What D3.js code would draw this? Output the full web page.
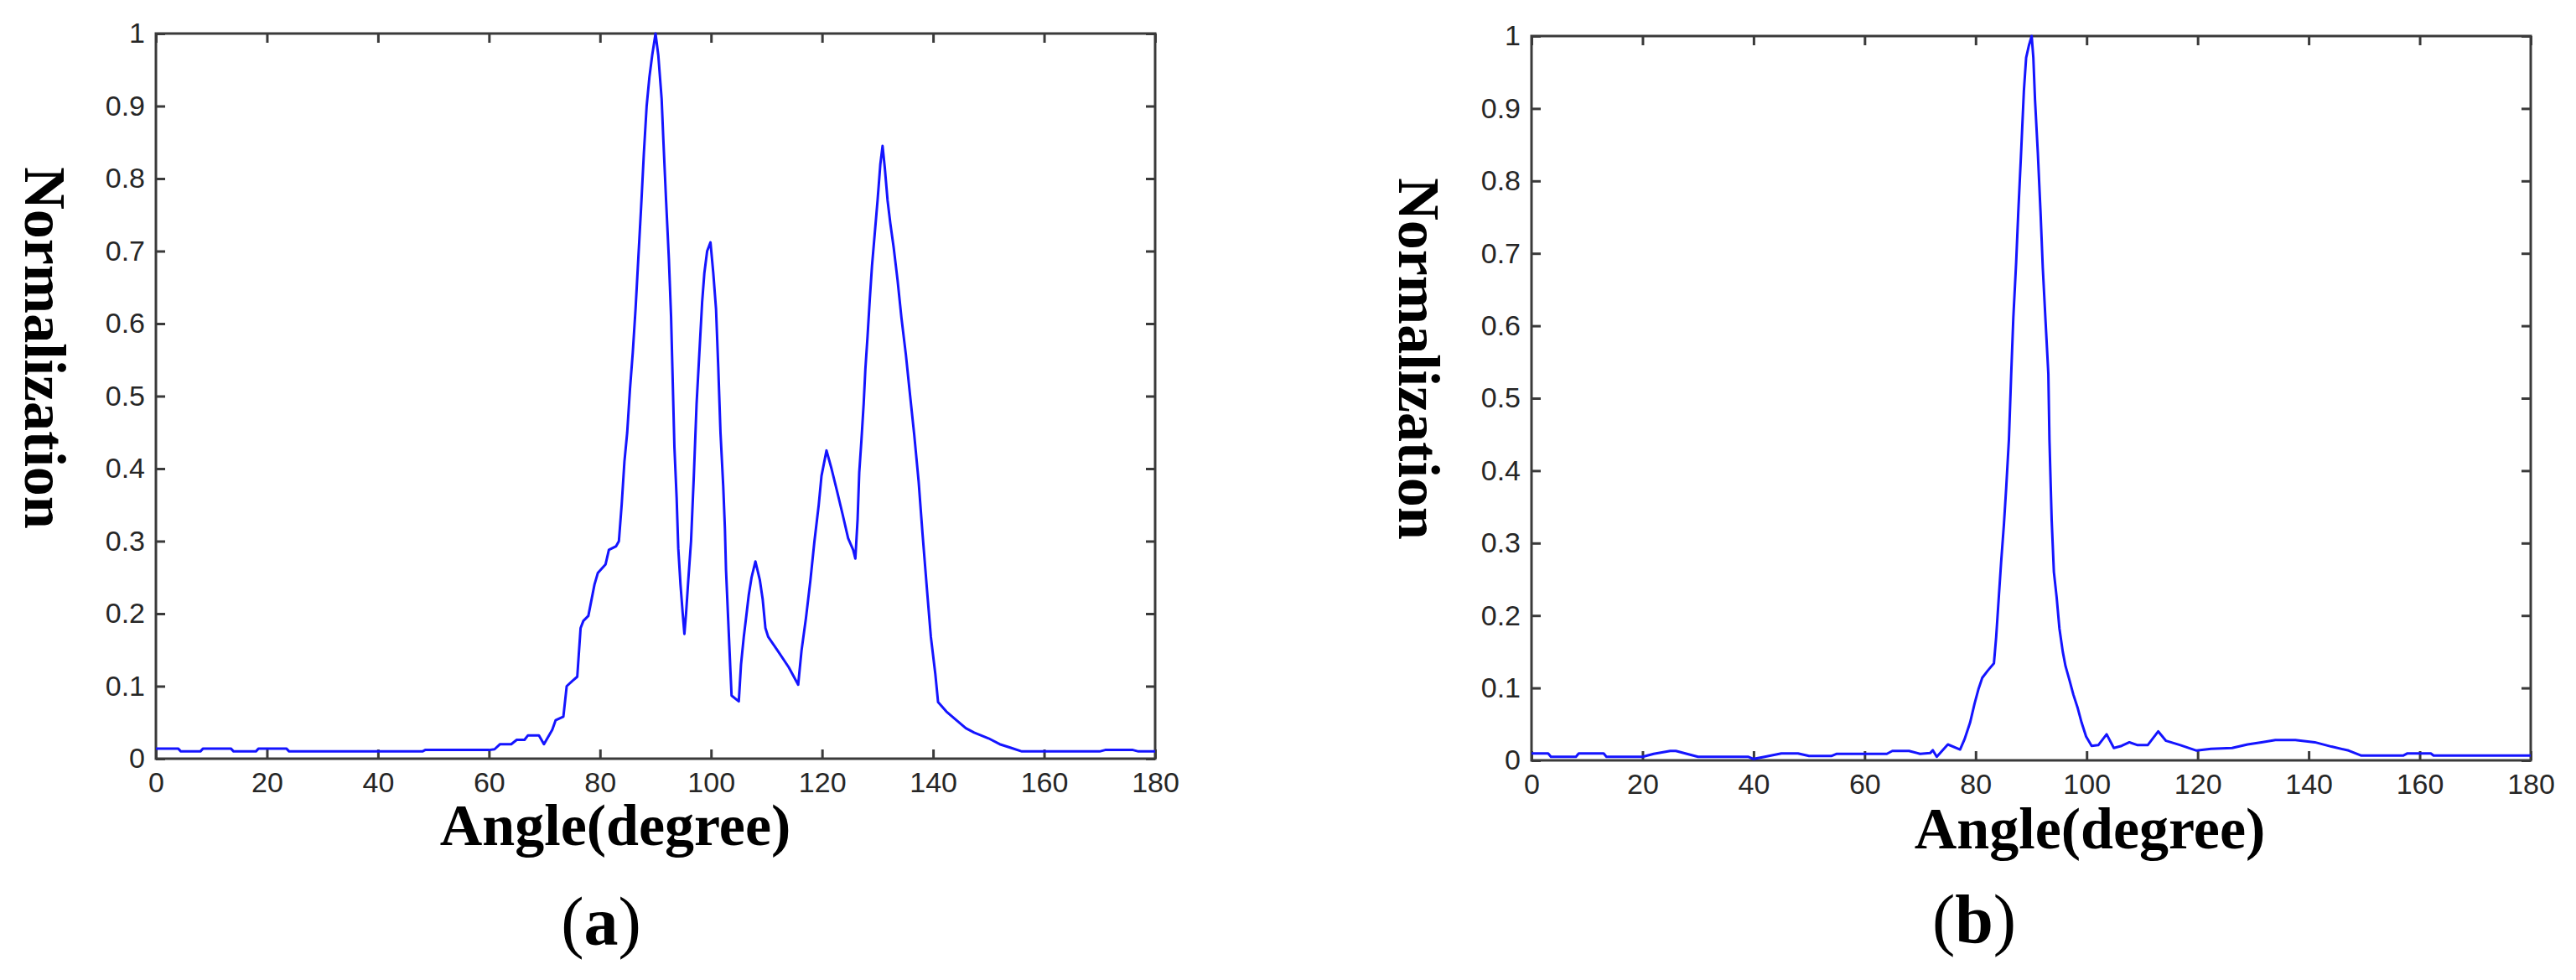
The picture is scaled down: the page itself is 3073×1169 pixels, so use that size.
<!DOCTYPE html>
<html>
<head>
<meta charset="utf-8">
<script src="https://cdn.jsdelivr.net/npm/d3@7"></script>
<style>
  body { margin: 0; background: #fff; }
  svg { display: block; }
</style>
</head>
<body>
<svg id="chart"></svg>
<script>
const WIDTH = 3073,
      HEIGHT = 1169;

// x ticks / y ticks shared by both panels
const xTicks = [0, 20, 40, 60, 80, 100, 120, 140, 160, 180];
const yTicks = [0, 0.1, 0.2, 0.3, 0.4, 0.5, 0.6, 0.7, 0.8, 0.9, 1];

// panel (a)
const angleA = [0, 4, 4.5, 8, 8.5, 13.5, 14, 18, 18.5, 23.5, 24, 48, 48.5, 60, 61, 62, 64, 65, 66.4, 67, 69,
  69.9, 71.4, 72, 73.4, 74, 75, 75.9, 76.5, 77, 77.9, 79, 79.6, 81, 81.6, 82.9, 83.4, 83.9, 84.4, 84.9,
  85.4, 85.9, 86.4, 86.9, 87.4, 87.9, 88.4, 88.9, 89.4, 90, 90.5, 91.1, 91.4, 91.9, 92.4, 92.8, 93.1,
  93.4, 93.8, 94.1, 94.5, 94.9, 95.2, 95.5, 95.9, 96.4, 96.9, 97.4, 97.9, 98.4, 98.8, 99.3, 99.9, 100.4,
  100.9, 101.3, 101.7, 102.2, 102.5, 102.7, 103.1, 103.5, 103.7, 105, 105.4, 105.9, 106.4, 106.8, 107.3,
  108, 108.8, 109.3, 109.8, 110.3, 112, 114, 115.7, 116.3, 117.1, 117.9, 118.6, 119.4, 119.9, 120.8,
  121.7, 122.7, 123.7, 124.7, 125.6, 126, 126.4, 126.7, 127.1, 127.5, 127.8, 128.2, 128.6, 129, 129.5,
  130, 130.5, 130.9, 131.3, 131.8, 132.3, 132.9, 133.6, 134.3, 135.1, 135.8, 136.6, 137.4, 138.1, 138.9,
  139.6, 140.4, 140.9, 142.4, 143.9, 145.9, 147.4, 150, 152, 154, 156, 160, 170, 171, 176, 177, 180];
const valueA = [0.014, 0.014, 0.010, 0.010, 0.014, 0.014, 0.010, 0.010, 0.014, 0.014, 0.010, 0.010, 0.012,
  0.012, 0.013, 0.02, 0.02, 0.026, 0.026, 0.032, 0.032,
  0.02, 0.04, 0.053, 0.058, 0.10, 0.107, 0.113, 0.18, 0.19, 0.197, 0.24, 0.256, 0.268, 0.288, 0.293, 0.30,
  0.35, 0.41, 0.45,
  0.51, 0.56, 0.62, 0.69, 0.76, 0.835, 0.90, 0.94, 0.97, 1.0, 0.97, 0.91, 0.855, 0.77, 0.69, 0.61, 0.52,
  0.43, 0.36, 0.29, 0.24, 0.20, 0.172, 0.20, 0.246, 0.30, 0.39, 0.49, 0.56, 0.63, 0.67, 0.70, 0.712, 0.67,
  0.62, 0.54, 0.45, 0.375, 0.317, 0.26, 0.19, 0.12, 0.087, 0.079, 0.13, 0.168, 0.20, 0.226, 0.25,
  0.272, 0.246, 0.22, 0.18, 0.168, 0.149, 0.126, 0.102, 0.149, 0.194, 0.246, 0.298, 0.35, 0.39, 0.425,
  0.40, 0.369, 0.337, 0.304, 0.288, 0.276, 0.33, 0.395, 0.44, 0.49, 0.537, 0.583, 0.634, 0.68, 0.725,
  0.77, 0.82, 0.845, 0.815, 0.77, 0.738, 0.705, 0.66, 0.608, 0.557, 0.505, 0.447, 0.382, 0.31, 0.233,
  0.168, 0.117, 0.078, 0.065, 0.055, 0.042, 0.036, 0.028, 0.02, 0.015, 0.01, 0.01, 0.01, 0.012, 0.012, 0.01, 0.01];

// panel (b)
const angleB = [0, 3, 3.5, 8, 8.5, 13, 13.5, 20, 22, 25, 26, 29, 30, 39, 40, 42, 45, 48, 50, 54, 55, 64, 65,
  68, 70, 71.8, 72.3, 73, 75, 77.2, 78, 79, 79.8, 80.5, 81.2, 82.2, 83.3, 83.7, 84.2, 84.6, 85.1, 85.5,
  86, 86.4, 86.8, 87.3, 87.7, 88.2, 88.7, 89.1, 89.6, 90.1, 90.4, 90.7, 91.2, 91.7, 92.1, 92.6, 93.1,
  93.3, 93.7, 94.1, 94.6, 95.1, 95.7, 96.2, 96.9, 97.6, 98.4, 99.1, 99.9, 100.9, 102.1, 103.6, 104.9,
  106.3, 107.7, 109.2, 111, 112.9, 114.3, 116.9, 119.8, 122.4, 126.2, 129, 131.5, 134, 137.6, 141.1,
  144.1, 147.2, 149.5, 157, 157.8, 162, 162.5, 180];
const valueB = [0.0095, 0.0095, 0.005, 0.005, 0.0095, 0.0095, 0.005, 0.005, 0.009, 0.013, 0.013, 0.007,
  0.005, 0.005, 0.002, 0.005, 0.0095, 0.0095, 0.006, 0.006, 0.009, 0.009, 0.013,
  0.013, 0.009, 0.01, 0.014, 0.005, 0.022, 0.015, 0.029, 0.052, 0.078, 0.098, 0.114, 0.124, 0.134, 0.17,
  0.228, 0.274, 0.326, 0.375,
  0.443, 0.531, 0.612, 0.687, 0.759, 0.84, 0.925, 0.97, 0.987, 1.0, 0.97, 0.912, 0.84, 0.756, 0.68, 0.606,
  0.534, 0.443, 0.332, 0.26, 0.225, 0.182, 0.15, 0.13, 0.111, 0.091, 0.072, 0.052, 0.033, 0.02, 0.021,
  0.036, 0.017, 0.02, 0.025, 0.021, 0.021, 0.04, 0.027, 0.021, 0.0135, 0.016, 0.017, 0.022, 0.025, 0.028,
  0.028, 0.025, 0.019, 0.0135, 0.0066, 0.0066, 0.0096, 0.0096, 0.0066, 0.0066];

const xLabelText = "Angle(degree)",
      yLabelText = "Normalization";

const panels = [
  { angles: angleA, values: valueA, tag: "a",
    left: 186, right: 1378, top: 40, bottom: 905,
    yLabel: [30, 415], xLabel: [734, 1008], caption: [717, 1127] },
  { angles: angleB, values: valueB, tag: "b",
    left: 1827, right: 3019, top: 43, bottom: 907,
    yLabel: [1669, 428], xLabel: [2493, 1012], caption: [2355, 1124] }
];

const svg = d3.select("svg#chart")
                .attr("width", WIDTH)
                .attr("height", HEIGHT);

const tickFmt = (d) => String(+d.toFixed(1));

const drawPanel = (p) => {
    const width = p.right - p.left,
          height = p.bottom - p.top;

    const x = d3.scaleLinear().domain([0, 180]).range([0, width]);
    const y = d3.scaleLinear().domain([0, 1]).range([height, 0]);

    const g = svg.append("g")
                .attr("transform", `translate(${p.left}, ${p.top})`);

    const styleAxis = (sel) => {
        sel.select(".domain").remove();
        sel.selectAll("line").attr("stroke", "#3a3a3a").attr("stroke-width", 3);
        sel.selectAll("text")
            .attr("fill", "#262626")
            .style("font-family", "'Liberation Sans', Arial, sans-serif")
            .style("font-size", "34px");
    };

    g.append("g")
        .attr("transform", `translate(0, ${height})`)
        .call(d3.axisBottom(x).tickValues(xTicks).tickSizeInner(-11).tickSizeOuter(0).tickPadding(16))
        .call(styleAxis);

    g.append("g")
        .call(d3.axisTop(x).tickValues(xTicks).tickSizeInner(-11).tickSizeOuter(0).tickFormat(""))
        .call(styleAxis);

    g.append("g")
        .call(d3.axisLeft(y).tickValues(yTicks).tickSizeInner(-11).tickSizeOuter(0).tickPadding(13).tickFormat(tickFmt))
        .call(styleAxis);

    g.append("g")
        .attr("transform", `translate(${width}, 0)`)
        .call(d3.axisRight(y).tickValues(yTicks).tickSizeInner(-11).tickSizeOuter(0).tickFormat(""))
        .call(styleAxis);

    g.append("rect")
        .attr("width", width)
        .attr("height", height)
        .attr("fill", "none")
        .attr("stroke", "#3a3a3a")
        .attr("stroke-width", 3);

    const line = d3.line()
                    .x((d, i) => x(p.angles[i]))
                    .y((d) => y(d));

    g.append("path")
        .datum(p.values)
        .attr("d", line)
        .attr("fill", "none")
        .attr("stroke", "#1414ff")
        .attr("stroke-width", 3)
        .attr("stroke-linejoin", "round");

    // axis titles
    svg.append("text")
        .attr("transform", `translate(${p.xLabel[0]}, ${p.xLabel[1]})`)
        .style("text-anchor", "middle")
        .style("font-family", "'Liberation Serif', 'Times New Roman', serif")
        .style("font-weight", "bold")
        .style("font-size", "70px")
        .attr("fill", "#000")
        .text(xLabelText);

    svg.append("text")
        .attr("transform", `translate(${p.yLabel[0]}, ${p.yLabel[1]}) rotate(90)`)
        .style("text-anchor", "middle")
        .style("font-family", "'Liberation Serif', 'Times New Roman', serif")
        .style("font-weight", "bold")
        .style("font-size", "70px")
        .attr("fill", "#000")
        .text(yLabelText);

    const cap = svg.append("text")
        .attr("transform", `translate(${p.caption[0]}, ${p.caption[1]})`)
        .style("text-anchor", "middle")
        .style("font-family", "'Liberation Serif', 'Times New Roman', serif")
        .style("font-size", "82px")
        .attr("fill", "#000");
    cap.append("tspan").text("(");
    cap.append("tspan").style("font-weight", "bold").text(p.tag);
    cap.append("tspan").text(")");
};

panels.forEach(drawPanel);
</script>
</body>
</html>
